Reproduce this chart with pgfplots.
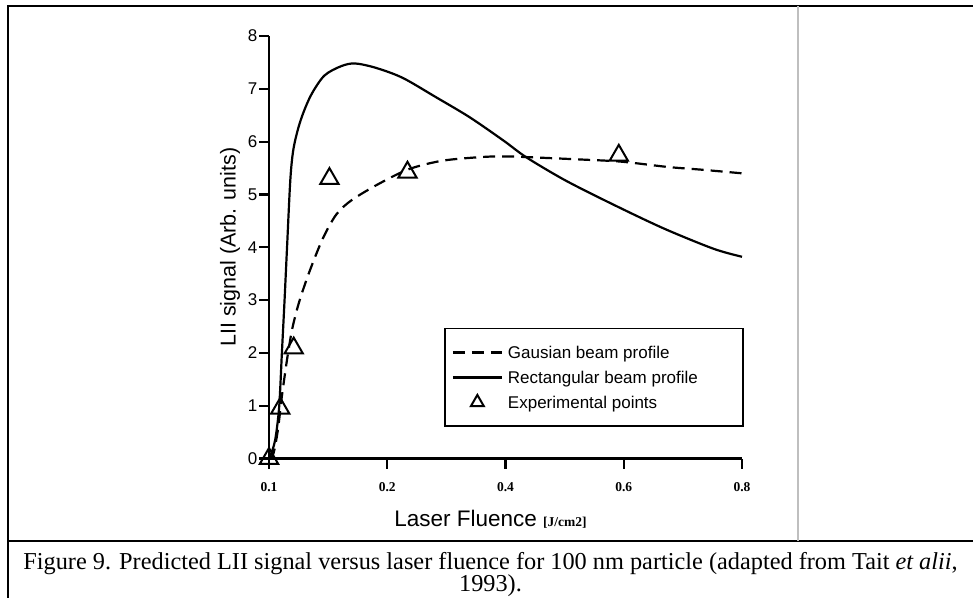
\documentclass[border=0pt]{standalone}
\usepackage{pgfplots}
\pgfplotsset{compat=1.18}
\usepackage{fontspec}
\setmainfont{Liberation Sans}
\newfontfamily\serif{Liberation Serif}

\pgfplotstableread{
x y
0 0
0.037 0.09
0.075 0.54
0.109 1.18
0.153 1.88
0.196 2.45
0.253 2.95
0.339 3.52
0.454 4.16
0.569 4.62
0.698 4.89
0.928 5.20
1.185 5.48
1.470 5.64
1.81 5.71
2.0 5.72
2.15 5.71
2.65 5.66
2.983 5.62
3.372 5.52
3.65 5.47
4.0 5.40
}\gauss

\pgfplotstableread{
x y
0 0
0.009 0.03
0.052 0.35
0.086 0.98
0.109 2.0
0.132 3.02
0.153 4.02
0.181 5.30
0.209 5.89
0.267 6.40
0.353 6.87
0.468 7.25
0.612 7.43
0.727 7.48
0.899 7.40
1.128 7.21
1.413 6.84
1.698 6.46
1.983 6.02
2.178 5.70
2.511 5.26
2.928 4.79
3.344 4.35
3.761 3.97
4.0 3.82
}\rect

\pgfplotstableread{
x y
0 0.0
0.095 0.95
0.209 2.09
0.511 5.30
1.171 5.42
2.958 5.74
}\expt

\pgfplotsset{tri legend/.style={legend image code/.code={\draw[##1, mark size=7.5pt] plot coordinates {(24.5pt,0pt)};}}}

\begin{document}
\begin{tikzpicture}
\path[use as bounding box] (0pt,0pt) rectangle (973pt,597pt);
\draw[line width=1.5pt] (8pt,-5pt) -- (8pt,591pt) -- (980pt,591pt);
\draw[line width=1.5pt] (8pt,56pt) -- (980pt,56pt);
\draw[line width=2pt, black!25] (798pt,591pt) -- (798pt,56pt);
\node[anchor=base, font=\serif\fontsize{24.3}{24.3}\selectfont, inner sep=0pt] at (490.5pt,28pt)
  {Figure 9. Predicted LII signal versus laser fluence for 100 nm particle (adapted from Tait \textit{et alii},};
\node[anchor=base, font=\serif\fontsize{24.3}{24.3}\selectfont, inner sep=0pt] at (490.5pt,5.5pt) {1993).};
\begin{axis}[
  at={(269pt,138.5pt)}, anchor=south west,
  scale only axis, width=473pt, height=422.5pt,
  xmin=0, xmax=4, ymin=0, ymax=8, clip=false,
  axis lines=left, axis line style={-, line width=2.2pt},
  xtick={0,1,2,3,4}, xticklabels={0.1,0.2,0.4,0.6,0.8},
  ytick={0,1,2,3,4,5,6,7,8},
  tick align=outside, major tick length=10pt,
  tick style={line width=2.2pt, black},
  /pgf/number format/assume math mode=true,
  yticklabel style={font=\fontsize{17}{17}\selectfont, inner sep=1.5pt},
  xticklabel style={font=\serif\bfseries\fontsize{13.5}{13.5}\selectfont, yshift=-10pt},
  ylabel={LII signal (Arb. units)},
  ylabel style={at={(axis description cs:-0.0824,0.5)}, anchor=center, font=\fontsize{21.5}{21.5}\selectfont},
  xlabel={Laser Fluence {\serif\bfseries\fontsize{13.5}{13.5}\selectfont [J/cm2]}},
  xlabel style={at={(axis description cs:0.5,0)}, anchor=center, xshift=-15pt, yshift=-61pt, font=\fontsize{22.5}{22.5}\selectfont},
  legend style={at={(0.370,0.309)}, anchor=north west, draw=black, line width=1.5pt, fill=white,
    inner xsep=7pt, inner ysep=16pt, row sep=9.5pt, column sep=4pt,
    nodes={inner sep=1pt, text height=12.5pt, text depth=1pt, font=\fontsize{17}{17}\selectfont},
    cells={anchor=west}},
  legend image code/.code={\draw[#1] (0pt,0pt) -- (49pt,0pt);},
]
\addplot[black, line width=2.2pt, dash pattern=on 12pt off 7pt, smooth] table[x=x,y=y] {\gauss};
\addlegendentry{\makebox[227pt][l]{Gausian beam profile}}
\addplot[black, line width=2.2pt, smooth] table[x=x,y=y] {\rect};
\addlegendentry{\makebox[227pt][l]{Rectangular beam profile}}
\addplot[black, only marks, mark=triangle, mark size=10.5pt, mark options={line width=2pt, solid}, tri legend] table[x=x,y=y] {\expt};
\addlegendentry{\makebox[227pt][l]{Experimental points}}
\end{axis}
\end{tikzpicture}
\end{document}
